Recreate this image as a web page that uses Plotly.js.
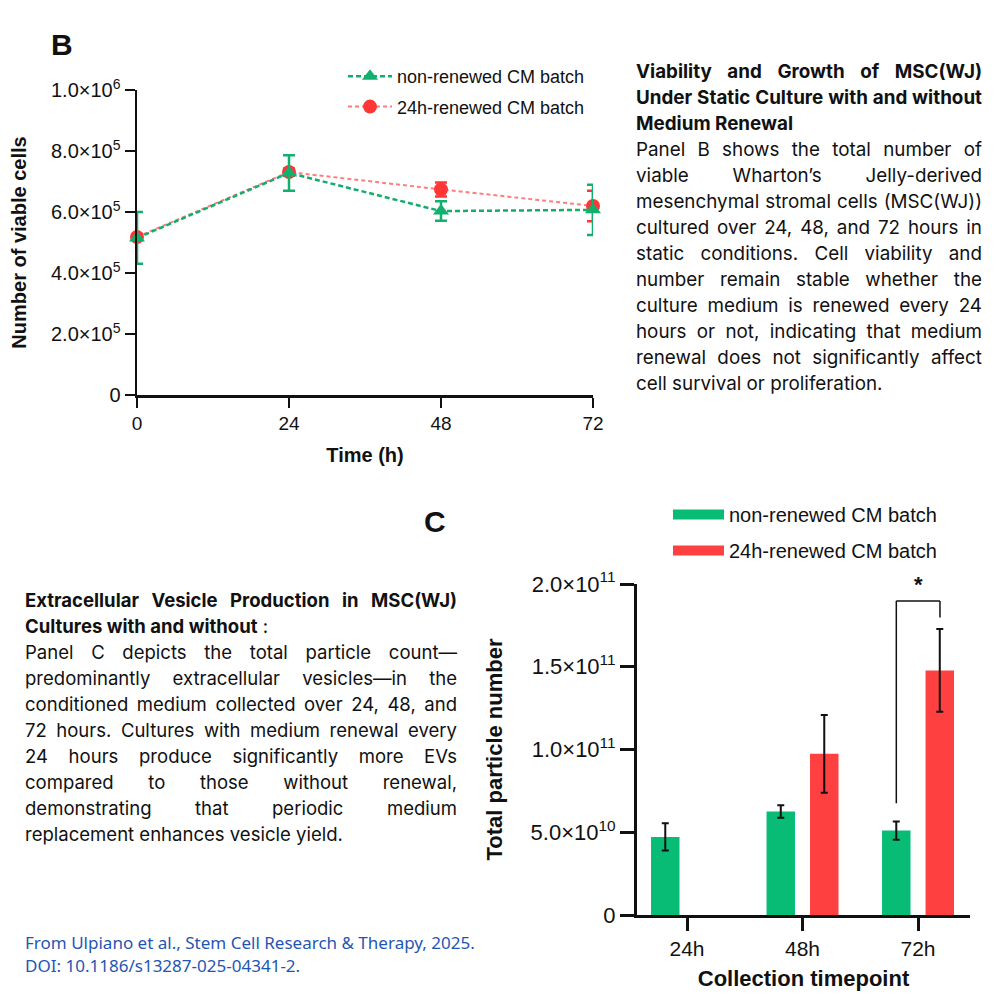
<!DOCTYPE html>
<html><head><meta charset="utf-8">
<script src="https://cdn.plot.ly/plotly-3.0.1.min.js"></script>
<style>
body{margin:0;background:#fff;}
#chart{position:absolute;left:0;top:0;width:1000px;height:1000px;}
.txt{position:absolute;font-family:Inter,sans-serif;font-size:17px;line-height:26px;color:#111;}
.txt div{white-space:nowrap;text-align:justify;text-align-last:justify;}
.txt div.l{text-align:left;text-align-last:left;}
.b{font-weight:700;}
.cite{position:absolute;left:25px;top:931px;font-family:"Noto Sans",sans-serif;font-size:17px;line-height:23px;color:#1f56b3;white-space:nowrap;}
</style></head>
<body>
<div id="chart"></div>
<div class="txt" id="blockB" style="left:636px;top:59px;width:346px;">
<div class="b">Viability and Growth of MSC(WJ)</div>
<div class="b">Under Static Culture with and without</div>
<div class="b l">Medium Renewal</div>
<div>Panel B shows the total number of</div>
<div>viable Wharton’s Jelly-derived</div>
<div>mesenchymal stromal cells (MSC(WJ))</div>
<div>cultured over 24, 48, and 72 hours in</div>
<div>static conditions. Cell viability and</div>
<div>number remain stable whether the</div>
<div>culture medium is renewed every 24</div>
<div>hours or not, indicating that medium</div>
<div>renewal does not significantly affect</div>
<div class="l" data-target="253">cell survival or proliferation.</div>
</div>
<div class="txt" id="blockC" style="left:25px;top:587px;width:432px;">
<div class="b">Extracellular Vesicle Production in MSC(WJ)</div>
<div class="l"><span class="b">Cultures with and without</span> :</div>
<div>Panel C depicts the total particle count—</div>
<div>predominantly extracellular vesicles—in the</div>
<div>conditioned medium collected over 24, 48, and</div>
<div>72 hours. Cultures with medium renewal every</div>
<div>24 hours produce significantly more EVs</div>
<div>compared to those without renewal,</div>
<div>demonstrating that periodic medium</div>
<div class="l" data-target="318">replacement enhances vesicle yield.</div>
</div>
<div class="cite" id="cite"><div data-target="450">From Ulpiano et al., Stem Cell Research &amp; Therapy, 2025.</div><div>DOI: 10.1186/s13287-025-04341-2.</div></div>
<script>
// ---- Panel B data ----
const timesB = [0, 24, 48, 72];
const nonRenewedB = [515000, 728000, 603000, 607000];
const nonRenewedBErr = [85000, 58000, 32000, 82000];
const renewedB = [518000, 731000, 674000, 620000];
const renewedBErr = [10000, 12000, 23000, 50000];
const yTickValsB = [0, 200000, 400000, 600000, 800000, 1000000];
const yTickTextB = ['0', '2.0×10<sup>5</sup>', '4.0×10<sup>5</sup>', '6.0×10<sup>5</sup>', '8.0×10<sup>5</sup>', '1.0×10<sup>6</sup>'];
// ---- Panel C data ----
const categoriesC = ['24h', '48h', '72h'];
const nonRenewedC = [4.72e10, 6.25e10, 5.10e10];
const nonRenewedCErr = [0.82e10, 0.38e10, 0.55e10];
const renewedC = [null, 9.74e10, 14.78e10];
const renewedCErr = [null, 2.35e10, 2.5e10];
const yTickValsC = [0, 5e10, 1e11, 1.5e11, 2e11];
const yTickTextC = ['0', '5.0×10<sup>10</sup>', '1.0×10<sup>11</sup>', '1.5×10<sup>11</sup>', '2.0×10<sup>11</sup>'];
const seriesNames = ['non-renewed CM batch', '24h-renewed CM batch'];

// fit text blocks so their unjustified reference line has the measured width
(function fitText(){
  const cv = document.createElement('canvas').getContext('2d');
  function w(el, size){
    const fam = getComputedStyle(el).fontFamily;
    let tot = 0;
    el.childNodes.forEach(n => {
      const bold = n.nodeType === 1 ? getComputedStyle(n).fontWeight : getComputedStyle(el).fontWeight;
      cv.font = bold + ' ' + size + 'px ' + fam;
      tot += cv.measureText(n.textContent).width;
    });
    return tot;
  }
  ['blockB','blockC','cite'].forEach(id => {
    const blk = document.getElementById(id);
    const lines = Array.from(blk.children);
    const ref = lines.find(l => l.dataset.target);
    let size = 17 * (+ref.dataset.target) / w(ref, 17);
    const maxW = blk.id === 'cite' ? 1e9 : blk.clientWidth;
    lines.forEach(l => { const lw = w(l, size); if (lw > maxW - 2) size *= (maxW - 2) / lw; });
    blk.style.fontSize = size.toFixed(2) + 'px';
  });
})();

const GREEN = '#08bc76', RED = '#ff4040', INK = '#111111';
const px = v => v / 1000, py = v => 1 - v / 1000;

const traces = [
  {type:'scatter', mode:'lines+markers', x:timesB, y:renewedB, name:seriesNames[1], xaxis:'x', yaxis:'y',
   legend:'legend', legendgroup:'b2', legendrank:2, cliponaxis:false,
   line:{color:'#ff7d7d', width:2, dash:'4px,3px'},
   marker:{symbol:'circle', size:14, color:'#ff3636'},
   error_y:{type:'data', array:renewedBErr, color:'#ff3636', thickness:2.5, width:6}},
  {type:'scatter', mode:'lines+markers', x:timesB, y:nonRenewedB, name:seriesNames[0], xaxis:'x', yaxis:'y',
   legend:'legend', legendgroup:'b1', legendrank:1, cliponaxis:false,
   line:{color:'#12ad6c', width:2.5, dash:'5px,3px'},
   marker:{symbol:'triangle-up', size:14, color:'#12b06e'},
   error_y:{type:'data', array:nonRenewedBErr, color:'#12b06e', thickness:2.5, width:6}},
  {type:'bar', x:categoriesC, y:nonRenewedC, name:seriesNames[0], xaxis:'x2', yaxis:'y2', showlegend:false,
   marker:{color:GREEN}, error_y:{type:'data', array:nonRenewedCErr, color:INK, thickness:2, width:3.5}},
  {type:'bar', x:categoriesC, y:renewedC, name:seriesNames[1], xaxis:'x2', yaxis:'y2', showlegend:false,
   marker:{color:RED}, error_y:{type:'data', array:renewedCErr, color:INK, thickness:2, width:3.5}},
  {type:'scatter', mode:'lines', x:[null], y:[null], name:seriesNames[0], xaxis:'x2', yaxis:'y2',
   legend:'legend2', legendgroup:'c1', line:{color:GREEN, width:10}},
  {type:'scatter', mode:'lines', x:[null], y:[null], name:seriesNames[1], xaxis:'x2', yaxis:'y2',
   legend:'legend2', legendgroup:'c2', line:{color:RED, width:10}}
];

const axisBase = {showline:true, linecolor:INK, showgrid:false, zeroline:false, ticks:'outside', tickcolor:INK, fixedrange:true};

const layout = {
  width:1000, height:1000, margin:{l:0, r:0, t:0, b:0},
  paper_bgcolor:'#ffffff', plot_bgcolor:'rgba(0,0,0,0)',
  font:{family:'Arial, "Liberation Sans", sans-serif', color:INK},
  barmode:'group', bargap:0.247, bargroupgap:0.345,
  xaxis:Object.assign({}, axisBase, {domain:[px(137), px(593)], range:[0, 72], anchor:'y',
    tickvals:timesB, ticklen:10, tickwidth:2.5, linewidth:2.5, tickfont:{size:19},
    title:{text:'<b>Time (h)</b>', font:{size:20}, standoff:15}}),
  yaxis:Object.assign({}, axisBase, {domain:[py(395), py(90)], range:[0, 1e6], anchor:'x',
    tickvals:yTickValsB, ticktext:yTickTextB, ticklen:10, tickwidth:2.5, linewidth:2.5, tickfont:{size:20},
    title:{text:'<b>Number of viable cells</b>', font:{size:20}, standoff:19}}),
  xaxis2:Object.assign({}, axisBase, {domain:[px(637), px(970)], range:[-0.433, 2.45], type:'category', anchor:'y2',
    ticklen:13, tickwidth:3, linewidth:3, tickfont:{size:21},
    title:{text:'<b>Collection timepoint</b>', font:{size:22}, standoff:12}}),
  yaxis2:Object.assign({}, axisBase, {domain:[py(915), py(584)], range:[0, 2e11], anchor:'x2',
    tickvals:yTickValsC, ticktext:yTickTextC, ticklen:14, tickwidth:3, linewidth:3, tickfont:{size:22},
    title:{text:'<b>Total particle number</b>', font:{size:22}, standoff:22}}),
  legend:{x:px(343), y:py(58), xanchor:'left', yanchor:'top', font:{size:18, color:INK}, itemwidth:44,
    traceorder:'grouped', tracegroupgap:4, bgcolor:'rgba(0,0,0,0)'},
  legend2:{x:px(668), y:py(495), xanchor:'left', yanchor:'top', font:{size:20, color:INK}, itemwidth:51,
    traceorder:'grouped', tracegroupgap:7, bgcolor:'rgba(0,0,0,0)'},
  shapes:[
    {type:'line', xref:'x2', yref:'y2', x0:1.812, x1:1.812, y0:6.75e10, y1:1.898e11, line:{color:INK, width:1.5}},
    {type:'line', xref:'x2', yref:'y2', x0:1.812, x1:2.19, y0:1.898e11, y1:1.898e11, line:{color:INK, width:1.5}},
    {type:'line', xref:'x2', yref:'y2', x0:2.19, x1:2.19, y0:1.898e11, y1:1.797e11, line:{color:INK, width:1.5}}
  ],
  annotations:[
    {xref:'paper', yref:'paper', x:px(62), y:py(44), xanchor:'center', yanchor:'middle', text:'<b>B</b>', showarrow:false, font:{size:30, color:INK}},
    {xref:'paper', yref:'paper', x:px(435), y:py(521), xanchor:'center', yanchor:'middle', text:'<b>C</b>', showarrow:false, font:{size:30, color:INK}},
    {xref:'x2', yref:'y2', x:2.0, y:2.0e11, text:'<b>*</b>', showarrow:false, yanchor:'middle', font:{size:22, color:INK}}
  ]
};

Plotly.newPlot('chart', traces, layout, {displayModeBar:false, staticPlot:true});
</script>
</body></html>
